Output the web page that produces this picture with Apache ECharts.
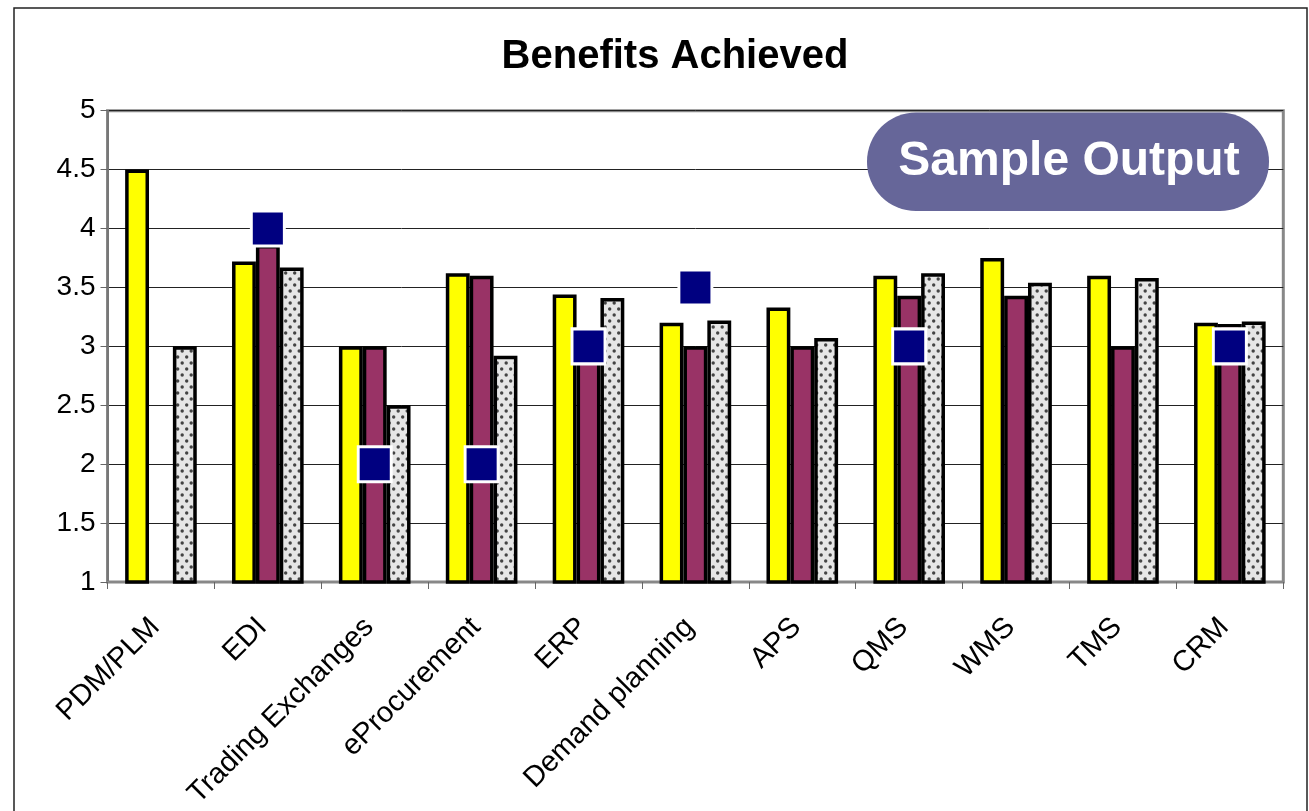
<!DOCTYPE html>
<html>
<head>
<meta charset="utf-8">
<script src="https://cdn.jsdelivr.net/npm/echarts@6/dist/echarts.min.js"></script>
<style>
  html, body { margin: 0; padding: 0; background: #fff; }
  #chart { width: 1309px; height: 811px; }
</style>
</head>
<body>
<div id="chart"></div>
<script>
// Systems and benefit scores (scale 1-5)
const categories = ['PDM/PLM', 'EDI', 'Trading Exchanges', 'eProcurement', 'ERP',
  'Demand planning', 'APS', 'QMS', 'WMS', 'TMS', 'CRM'];
const seriesYellow = [4.5, 3.72, 3.0, 3.62, 3.44, 3.2, 3.33, 3.6, 3.75, 3.6, 3.2];
const seriesMaroon = [null, 3.86, 3.0, 3.6, 2.95, 3.0, 3.0, 3.43, 3.43, 3.0, 3.19];
const seriesDotted = [3.0, 3.67, 2.5, 2.92, 3.41, 3.22, 3.07, 3.62, 3.54, 3.58, 3.21];
const markerValues = [null, 4.0, 2.0, 2.0, 3.0, 3.5, null, 3.0, null, null, 3.0];
const yTicks = { min: 1, max: 5, step: 0.5 };

const FONT = '"Liberation Sans", Arial, sans-serif';

// Light grey fill with staggered dark dots
function dotPattern() {
  const c = document.createElement('canvas');
  c.width = 9; c.height = 12;
  const ctx = c.getContext('2d');
  ctx.fillStyle = '#e6e6e6';
  ctx.fillRect(0, 0, 9, 12);
  ctx.fillStyle = '#444';
  [[2.2, 3], [6.7, 9]].forEach(([x, y]) => {
    ctx.beginPath();
    ctx.arc(x, y, 1.7, 0, Math.PI * 2);
    ctx.fill();
  });
  return c;
}

const chart = echarts.init(document.getElementById('chart'), null, { renderer: 'canvas' });

const barBorder = { borderColor: '#000', borderWidth: 3.5 };

chart.setOption({
  animation: false,
  backgroundColor: '#fff',
  title: {
    text: 'Benefits Achieved',
    left: 670, top: 32, textAlign: 'center',
    textStyle: { fontFamily: FONT, fontWeight: 'bold', fontSize: 40, color: '#000' }
  },
  grid: {
    left: 107.5, right: 25.7, top: 110.7, bottom: 229,
    show: true, borderColor: '#888', borderWidth: 3
  },
  xAxis: {
    type: 'category',
    data: categories,
    axisLine: { lineStyle: { color: '#888', width: 2 } },
    axisTick: { show: true, length: 7, lineStyle: { color: '#666', width: 1 } },
    axisLabel: {
      rotate: 45, margin: 35, interval: 0, padding: [0, 8, 0, 0],
      fontFamily: FONT, fontSize: 29, color: '#000'
    }
  },
  yAxis: {
    type: 'value',
    min: yTicks.min, max: yTicks.max, interval: yTicks.step,
    axisLine: { show: true, lineStyle: { color: '#777', width: 2 } },
    axisTick: { show: true, length: 7, lineStyle: { color: '#666', width: 1 } },
    axisLabel: { margin: 12, fontFamily: FONT, fontSize: 28, color: '#000' },
    splitLine: { show: true, lineStyle: { color: '#222', width: 1 } }
  },
  series: [
    {
      type: 'bar', data: seriesYellow, barGap: '0%', barCategoryGap: '33%',
      itemStyle: Object.assign({ color: '#ffff00' }, barBorder)
    },
    {
      type: 'bar', data: seriesMaroon, barGap: '0%', barCategoryGap: '33%',
      itemStyle: Object.assign({ color: '#993366' }, barBorder)
    },
    {
      type: 'bar', data: seriesDotted, barGap: '0%', barCategoryGap: '33%',
      itemStyle: Object.assign({ color: { image: dotPattern(), repeat: 'repeat' } }, barBorder)
    },
    {
      type: 'scatter', data: markerValues, z: 5,
      symbol: 'rect', symbolSize: [33, 35],
      itemStyle: { color: '#000080', borderColor: '#fff', borderWidth: 3, opacity: 1 }
    }
  ],
  graphic: [
    {
      type: 'rect', z: 10, silent: true,
      shape: { x: 14, y: 8, width: 1293, height: 900 },
      style: { fill: 'none', stroke: '#222', lineWidth: 1.5 }
    },
    {
      type: 'rect', z: 20, silent: true,
      shape: { x: 867, y: 112.5, width: 402, height: 98.5, r: 49 },
      style: { fill: '#666699' }
    },
    {
      type: 'text', z: 21, silent: true,
      x: 1069, y: 162,
      style: {
        text: 'Sample Output', fill: '#fff',
        font: 'bold 48px ' + FONT,
        textAlign: 'center', textVerticalAlign: 'middle'
      }
    }
  ]
});
</script>
</body>
</html>
